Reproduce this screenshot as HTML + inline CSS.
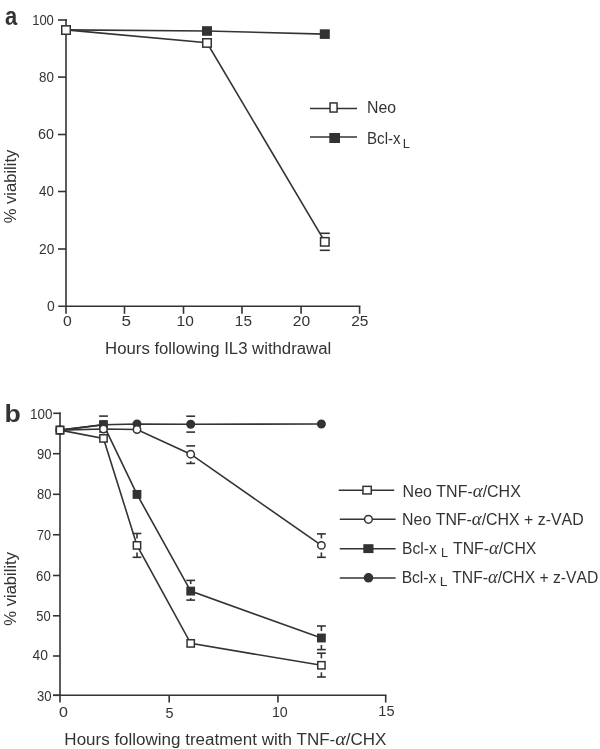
<!DOCTYPE html>
<html><head><meta charset="utf-8"><style>
html,body{margin:0;padding:0;background:#fff;overflow:hidden;}
svg{display:block;will-change:transform;}
text{font-family:"Liberation Sans",sans-serif;fill:#333;stroke:none;font-kerning:none;}
</style></head><body>
<svg width="600" height="749" viewBox="0 0 600 749" stroke="#333" stroke-linecap="butt">
<line x1="66" y1="19.2" x2="66" y2="307" stroke-width="1.6"/>
<line x1="58" y1="20" x2="66.8" y2="20" stroke-width="1.6"/>
<line x1="58" y1="77.1" x2="66" y2="77.1" stroke-width="1.6"/>
<line x1="58" y1="134.5" x2="66" y2="134.5" stroke-width="1.6"/>
<line x1="58" y1="191.5" x2="66" y2="191.5" stroke-width="1.6"/>
<line x1="58" y1="249" x2="66" y2="249" stroke-width="1.6"/>
<line x1="58.2" y1="306.3" x2="360.4" y2="306.3" stroke-width="1.6"/>
<line x1="66" y1="306.3" x2="66" y2="313.8" stroke-width="1.6"/>
<line x1="124.5" y1="306.3" x2="124.5" y2="313.8" stroke-width="1.6"/>
<line x1="183.5" y1="306.3" x2="183.5" y2="313.8" stroke-width="1.6"/>
<line x1="242" y1="306.3" x2="242" y2="313.8" stroke-width="1.6"/>
<line x1="301.1" y1="306.3" x2="301.1" y2="313.8" stroke-width="1.6"/>
<line x1="359.6" y1="306.3" x2="359.6" y2="313.8" stroke-width="1.6"/>
<line x1="319.8" y1="233.3" x2="329.8" y2="233.3" stroke-width="1.6"/>
<line x1="319.8" y1="250.3" x2="329.8" y2="250.3" stroke-width="1.6"/>
<polyline fill="none" stroke-width="1.6" points="66,29.9 207,31 324.8,34.1"/>
<polyline fill="none" stroke-width="1.6" points="66,29.9 207,42.8 324.8,241.7"/>
<rect x="61.75" y="25.85" width="8.5" height="8.1" fill="#333" stroke-width="1.5"/>
<rect x="202.75" y="26.95" width="8.5" height="8.1" fill="#333" stroke-width="1.5"/>
<rect x="320.55" y="30.05" width="8.5" height="8.1" fill="#333" stroke-width="1.5"/>
<rect x="61.75" y="25.85" width="8.5" height="8.4" fill="#fff" stroke-width="1.5"/>
<rect x="202.75" y="38.75" width="8.5" height="8.4" fill="#fff" stroke-width="1.5"/>
<rect x="320.55" y="237.65" width="8.5" height="8.4" fill="#fff" stroke-width="1.5"/>
<line x1="310" y1="108.5" x2="357" y2="108.5" stroke-width="1.6"/>
<rect x="330.05" y="102.95" width="7" height="9.1" fill="#fff" stroke-width="1.5"/>
<line x1="310" y1="137" x2="357" y2="137" stroke-width="1.6"/>
<rect x="330.05" y="133.75" width="9.2" height="8.5" fill="#333" stroke-width="1.5"/>
<line x1="60" y1="412.5" x2="60" y2="702.6" stroke-width="1.6"/>
<line x1="53.2" y1="413.3" x2="60.8" y2="413.3" stroke-width="1.6"/>
<line x1="53" y1="453.7" x2="60" y2="453.7" stroke-width="1.6"/>
<line x1="53" y1="494.3" x2="60" y2="494.3" stroke-width="1.6"/>
<line x1="53" y1="534.75" x2="60" y2="534.75" stroke-width="1.6"/>
<line x1="53" y1="575.5" x2="60" y2="575.5" stroke-width="1.6"/>
<line x1="53" y1="615.8" x2="60" y2="615.8" stroke-width="1.6"/>
<line x1="53" y1="656" x2="60" y2="656" stroke-width="1.6"/>
<line x1="53" y1="695.3" x2="60" y2="695.3" stroke-width="1.6"/>
<line x1="53" y1="695.3" x2="386.5" y2="695.3" stroke-width="1.6"/>
<line x1="169.2" y1="695.3" x2="169.2" y2="702.6" stroke-width="1.6"/>
<line x1="277.95" y1="695.3" x2="277.95" y2="702.6" stroke-width="1.6"/>
<line x1="385.7" y1="695.3" x2="385.7" y2="702.6" stroke-width="1.6"/>
<line x1="99.1" y1="416.1" x2="107.9" y2="416.1" stroke-width="1.6"/>
<line x1="99.1" y1="432" x2="107.9" y2="432" stroke-width="1.6"/>
<line x1="132.6" y1="533.5" x2="141.4" y2="533.5" stroke-width="1.6"/>
<line x1="132.6" y1="557.3" x2="141.4" y2="557.3" stroke-width="1.6"/>
<line x1="137" y1="533.5" x2="137" y2="538.4" stroke-width="1.6"/>
<line x1="137" y1="552.4" x2="137" y2="557.3" stroke-width="1.6"/>
<line x1="186.3" y1="416.2" x2="195.1" y2="416.2" stroke-width="1.6"/>
<line x1="186.3" y1="432.1" x2="195.1" y2="432.1" stroke-width="1.6"/>
<line x1="186.3" y1="445.9" x2="195.1" y2="445.9" stroke-width="1.6"/>
<line x1="186.3" y1="463.4" x2="195.1" y2="463.4" stroke-width="1.6"/>
<line x1="190.7" y1="461.2" x2="190.7" y2="463.4" stroke-width="1.6"/>
<line x1="186.3" y1="580.4" x2="195.1" y2="580.4" stroke-width="1.6"/>
<line x1="186.3" y1="600.1" x2="195.1" y2="600.1" stroke-width="1.6"/>
<line x1="190.7" y1="580.4" x2="190.7" y2="584.1" stroke-width="1.6"/>
<line x1="190.7" y1="598.1" x2="190.7" y2="600.1" stroke-width="1.6"/>
<line x1="317" y1="533.9" x2="325.8" y2="533.9" stroke-width="1.6"/>
<line x1="317" y1="557.3" x2="325.8" y2="557.3" stroke-width="1.6"/>
<line x1="321.4" y1="533.9" x2="321.4" y2="538.4" stroke-width="1.6"/>
<line x1="321.4" y1="552.4" x2="321.4" y2="557.3" stroke-width="1.6"/>
<line x1="317" y1="626" x2="325.8" y2="626" stroke-width="1.6"/>
<line x1="317" y1="649.6" x2="325.8" y2="649.6" stroke-width="1.6"/>
<line x1="321.4" y1="626" x2="321.4" y2="631" stroke-width="1.6"/>
<line x1="321.4" y1="645" x2="321.4" y2="649.6" stroke-width="1.6"/>
<line x1="317" y1="653.2" x2="325.8" y2="653.2" stroke-width="1.6"/>
<line x1="317" y1="677" x2="325.8" y2="677" stroke-width="1.6"/>
<line x1="321.4" y1="653.2" x2="321.4" y2="658.3" stroke-width="1.6"/>
<line x1="321.4" y1="672.3" x2="321.4" y2="677" stroke-width="1.6"/>
<polyline fill="none" stroke-width="1.6" points="60,430.1 103.5,424.7 137,424 190.7,424.2 321.4,424"/>
<polyline fill="none" stroke-width="1.6" points="60,430.1 103.5,424.6 137,494.4 190.7,591.1 321.4,638"/>
<polyline fill="none" stroke-width="1.6" points="60,430.1 103.5,429 137,429.5 190.7,454.2 321.4,545.4"/>
<polyline fill="none" stroke-width="1.6" points="60,430.1 103.5,438.4 137,545.4 190.7,643.4 321.4,665.3"/>
<circle cx="60" cy="430.1" r="3.75" fill="#333" stroke-width="1.5"/>
<circle cx="103.5" cy="424.7" r="3.75" fill="#333" stroke-width="1.5"/>
<circle cx="137" cy="424" r="3.75" fill="#333" stroke-width="1.5"/>
<circle cx="190.7" cy="424.2" r="3.75" fill="#333" stroke-width="1.5"/>
<circle cx="321.4" cy="424" r="3.75" fill="#333" stroke-width="1.5"/>
<rect x="56.35" y="426.4" width="7.3" height="7.4" fill="#333" stroke-width="1.5"/>
<rect x="99.85" y="420.9" width="7.3" height="7.4" fill="#333" stroke-width="1.5"/>
<rect x="133.35" y="490.7" width="7.3" height="7.4" fill="#333" stroke-width="1.5"/>
<rect x="187.05" y="587.4" width="7.3" height="7.4" fill="#333" stroke-width="1.5"/>
<rect x="317.75" y="634.3" width="7.3" height="7.4" fill="#333" stroke-width="1.5"/>
<circle cx="60" cy="430.1" r="3.7" fill="#fff" stroke-width="1.5"/>
<circle cx="103.5" cy="429" r="3.7" fill="#fff" stroke-width="1.5"/>
<circle cx="137" cy="429.5" r="3.7" fill="#fff" stroke-width="1.5"/>
<circle cx="190.7" cy="454.2" r="3.7" fill="#fff" stroke-width="1.5"/>
<circle cx="321.4" cy="545.4" r="3.7" fill="#fff" stroke-width="1.5"/>
<rect x="56.35" y="426.45" width="7.3" height="7.3" fill="#fff" stroke-width="1.5"/>
<rect x="99.85" y="434.75" width="7.3" height="7.3" fill="#fff" stroke-width="1.5"/>
<rect x="133.35" y="541.75" width="7.3" height="7.3" fill="#fff" stroke-width="1.5"/>
<rect x="187.05" y="639.75" width="7.3" height="7.3" fill="#fff" stroke-width="1.5"/>
<rect x="317.75" y="661.65" width="7.3" height="7.3" fill="#fff" stroke-width="1.5"/>
<line x1="338.7" y1="490.3" x2="394.2" y2="490.3" stroke-width="1.6"/>
<rect x="362.95" y="486.35" width="8.3" height="7.6" fill="#fff" stroke-width="1.5"/>
<line x1="339.8" y1="519.3" x2="395.6" y2="519.3" stroke-width="1.6"/>
<circle cx="368.4" cy="519.3" r="3.85" fill="#fff" stroke-width="1.5"/>
<line x1="339.8" y1="548.7" x2="395.6" y2="548.7" stroke-width="1.6"/>
<rect x="364.05" y="544.95" width="8.7" height="7.4" fill="#333" stroke-width="1.5"/>
<line x1="339.8" y1="578" x2="395.6" y2="578" stroke-width="1.6"/>
<circle cx="368.5" cy="577.8" r="4.05" fill="#333" stroke-width="1.5"/>
<text id="a_lab" x="5.04" y="25" font-size="25" font-weight="bold" textLength="12.19" lengthAdjust="spacingAndGlyphs">a</text>
<text id="ay0" x="47" y="310.8" font-size="14" textLength="7.74" lengthAdjust="spacingAndGlyphs">0</text>
<text id="ay20" x="39.02" y="253.8" font-size="14" textLength="15.29" lengthAdjust="spacingAndGlyphs">20</text>
<text id="ay40" x="39" y="196.3" font-size="14" textLength="14.87" lengthAdjust="spacingAndGlyphs">40</text>
<text id="ay60" x="38.13" y="139.3" font-size="14" textLength="15.97" lengthAdjust="spacingAndGlyphs">60</text>
<text id="ay80" x="38.96" y="81.9" font-size="14" textLength="14.9" lengthAdjust="spacingAndGlyphs">80</text>
<text id="ay100" x="32.15" y="24.8" font-size="14" textLength="21.71" lengthAdjust="spacingAndGlyphs">100</text>
<text id="ax0" x="63.11" y="326.2" font-size="14" textLength="8.79" lengthAdjust="spacingAndGlyphs">0</text>
<text id="ax5" x="121.63" y="326.2" font-size="14" textLength="9.52" lengthAdjust="spacingAndGlyphs">5</text>
<text id="ax10" x="176.53" y="326.2" font-size="14" textLength="17.24" lengthAdjust="spacingAndGlyphs">10</text>
<text id="ax15" x="234.86" y="326.2" font-size="14" textLength="17.05" lengthAdjust="spacingAndGlyphs">15</text>
<text id="ax20" x="292.8" y="326.2" font-size="14" textLength="17.37" lengthAdjust="spacingAndGlyphs">20</text>
<text id="ax25" x="351.21" y="326.2" font-size="14" textLength="17.26" lengthAdjust="spacingAndGlyphs">25</text>
<text id="atitle" x="105.13" y="353.8" font-size="16" textLength="226.04" lengthAdjust="spacingAndGlyphs">Hours following IL3 withdrawal</text>
<text id="aylab" x="15.6" y="223.29" font-size="16" textLength="73.66" lengthAdjust="spacingAndGlyphs" transform="rotate(-90 15.6 223.29)">% viability</text>
<text id="aleg1" x="366.98" y="113.3" font-size="15.6" textLength="29.08" lengthAdjust="spacingAndGlyphs">Neo</text>
<text id="aleg2" x="367.07" y="143.5" font-size="15.6" textLength="33.5" lengthAdjust="spacingAndGlyphs">Bcl-x</text>
<text id="aleg2s" x="402.88" y="147.9" font-size="12" textLength="7.2" lengthAdjust="spacingAndGlyphs">L</text>
<text id="b_lab" x="4.52" y="422.4" font-size="24.3" font-weight="bold" textLength="16.29" lengthAdjust="spacingAndGlyphs">b</text>
<text id="by30" x="36.94" y="700.7" font-size="14" textLength="14.54" lengthAdjust="spacingAndGlyphs">30</text>
<text id="by40" x="32.53" y="659.6" font-size="14" textLength="15.45" lengthAdjust="spacingAndGlyphs">40</text>
<text id="by50" x="36.21" y="620.8" font-size="14" textLength="14.38" lengthAdjust="spacingAndGlyphs">50</text>
<text id="by60" x="36.1" y="580.5" font-size="14" textLength="14.68" lengthAdjust="spacingAndGlyphs">60</text>
<text id="by70" x="37" y="539.75" font-size="14" textLength="14" lengthAdjust="spacingAndGlyphs">70</text>
<text id="by80" x="37.01" y="499.3" font-size="14" textLength="14.47" lengthAdjust="spacingAndGlyphs">80</text>
<text id="by90" x="37.01" y="458.7" font-size="14" textLength="14.47" lengthAdjust="spacingAndGlyphs">90</text>
<text id="by100" x="30.11" y="419.2" font-size="14" textLength="22.46" lengthAdjust="spacingAndGlyphs">100</text>
<text id="bx0" x="59" y="717" font-size="14.6" textLength="8.91" lengthAdjust="spacingAndGlyphs">0</text>
<text id="bx5" x="165.53" y="717.6" font-size="14.6" textLength="8.04" lengthAdjust="spacingAndGlyphs">5</text>
<text id="bx10" x="271.95" y="717.3" font-size="14.6" textLength="15.86" lengthAdjust="spacingAndGlyphs">10</text>
<text id="bx15" x="378.37" y="716.2" font-size="14.6" textLength="16.18" lengthAdjust="spacingAndGlyphs">15</text>
<text id="btitle" x="64.38" y="744.5" font-size="16" textLength="321.99" lengthAdjust="spacingAndGlyphs">Hours following treatment with TNF-<tspan font-family="Liberation Serif" font-style="italic" font-size="1.18em">α</tspan>/CHX</text>
<text id="bylab" x="16.3" y="625.66" font-size="16" textLength="73.67" lengthAdjust="spacingAndGlyphs" transform="rotate(-90 16.3 625.66)">% viability</text>
<text id="bleg1" x="402.64" y="497.4" font-size="15.6" textLength="118.17" lengthAdjust="spacingAndGlyphs">Neo TNF-<tspan font-family="Liberation Serif" font-style="italic" font-size="1.18em">α</tspan>/CHX</text>
<text id="bleg2" x="402.14" y="524.6" font-size="15.8" textLength="181.51" lengthAdjust="spacingAndGlyphs">Neo TNF-<tspan font-family="Liberation Serif" font-style="italic" font-size="1.18em">α</tspan>/CHX + z-VAD</text>
<text id="bleg3a" x="401.99" y="554.3" font-size="15.6" textLength="34.71" lengthAdjust="spacingAndGlyphs">Bcl-x</text>
<text id="bleg3s" x="440.91" y="556.6" font-size="12" textLength="6.97" lengthAdjust="spacingAndGlyphs">L</text>
<text id="bleg3b" x="453" y="554.3" font-size="15.6" textLength="83.35" lengthAdjust="spacingAndGlyphs">TNF-<tspan font-family="Liberation Serif" font-style="italic" font-size="1.18em">α</tspan>/CHX</text>
<text id="bleg4a" x="401.63" y="583.2" font-size="15.6" textLength="34.74" lengthAdjust="spacingAndGlyphs">Bcl-x</text>
<text id="bleg4s" x="439.8" y="585.6" font-size="12" textLength="7.69" lengthAdjust="spacingAndGlyphs">L</text>
<text id="bleg4b" x="452.25" y="583.2" font-size="15.6" textLength="146.07" lengthAdjust="spacingAndGlyphs">TNF-<tspan font-family="Liberation Serif" font-style="italic" font-size="1.18em">α</tspan>/CHX + z-VAD</text>
</svg>
</body></html>
